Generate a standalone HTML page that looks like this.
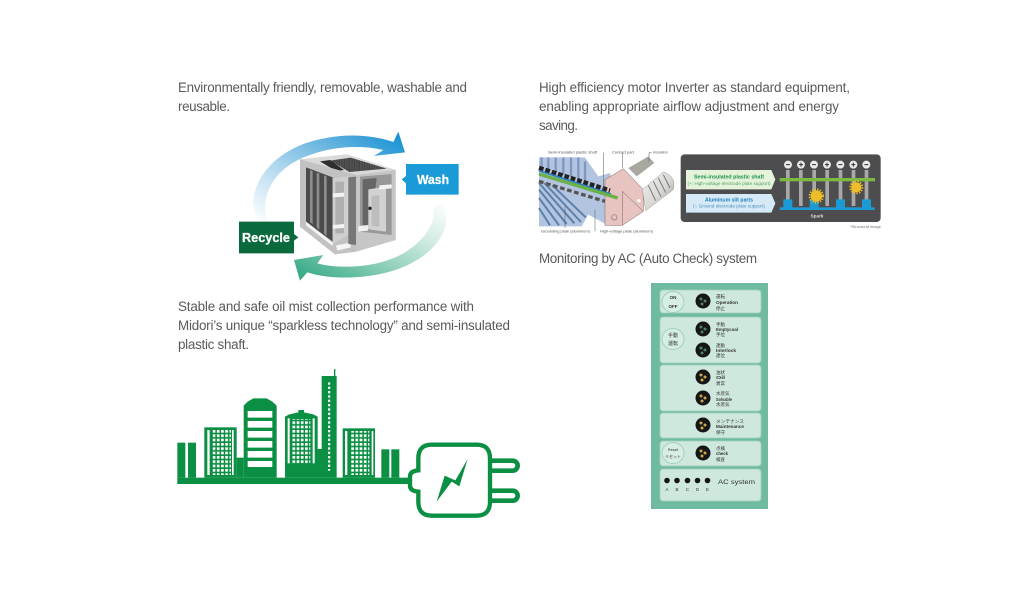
<!DOCTYPE html>
<html>
<head>
<meta charset="utf-8">
<style>
html,body{margin:0;padding:0;background:#fff;width:1024px;height:615px;overflow:hidden}
svg{display:block}
.t{font-family:"Liberation Sans","Noto Sans CJK JP",sans-serif;font-size:13.4px;fill:#5a5a5a}
.s{font-family:"Liberation Sans","Noto Sans CJK JP",sans-serif}
</style>
</head>
<body>
<svg width="1024" height="615" viewBox="0 0 1024 615" xmlns="http://www.w3.org/2000/svg">
<defs>
<linearGradient id="gb" x1="0" y1="1" x2="1" y2="0.1">
<stop offset="0" stop-color="#fff"/><stop offset=".3" stop-color="#c5e2f3"/><stop offset=".65" stop-color="#72b9e2"/><stop offset="1" stop-color="#1a93d3"/>
</linearGradient>
<linearGradient id="gg" x1="1" y1="0" x2="0" y2="0.9">
<stop offset="0" stop-color="#fff"/><stop offset=".3" stop-color="#d2ece2"/><stop offset=".65" stop-color="#89cdb5"/><stop offset="1" stop-color="#37a987"/>
</linearGradient>
<pattern id="w1" x="128" y="195" width="12.6" height="13" patternUnits="userSpaceOnUse"><rect width="8" height="8" fill="#fff"/></pattern>
<pattern id="w2" x="474" y="52" width="10" height="13" patternUnits="userSpaceOnUse"><rect width="7" height="7" fill="#fff"/></pattern>
<pattern id="grate" x="0" y="0" width="5" height="5" patternUnits="userSpaceOnUse"><rect width="5" height="5" fill="#3f3f3f"/><rect width="2" height="5" fill="#5c5c5c"/></pattern>
<linearGradient id="ins" x1="0" y1="0" x2="1" y2="1">
<stop offset="0" stop-color="#f0f0ec"/><stop offset=".55" stop-color="#d8d8d4"/><stop offset="1" stop-color="#999"/>
</linearGradient>
<filter id="b1"><feGaussianBlur stdDeviation=".35"/></filter>
<filter id="b2"><feGaussianBlur stdDeviation=".6"/></filter>
<filter id="b0"><feGaussianBlur stdDeviation=".22"/></filter>
</defs>

<!-- paragraph text -->
<text class="t" x="178" y="92" textLength="289" lengthAdjust="spacing">Environmentally friendly, removable, washable and</text>
<text class="t" x="178" y="111" textLength="52" lengthAdjust="spacing">reusable.</text>
<text class="t" x="539" y="92" textLength="311" lengthAdjust="spacing">High efficiency motor Inverter as standard equipment,</text>
<text class="t" x="539" y="111" textLength="300" lengthAdjust="spacing">enabling appropriate airflow adjustment and energy</text>
<text class="t" x="539" y="130" textLength="39" lengthAdjust="spacing">saving.</text>
<text class="t" x="539" y="263" textLength="218" lengthAdjust="spacing">Monitoring by AC (Auto Check) system</text>
<text class="t" x="178" y="311" textLength="296" lengthAdjust="spacing">Stable and safe oil mist collection performance with</text>
<text class="t" x="178" y="330" textLength="332" lengthAdjust="spacing">Midori’s unique “sparkless technology” and semi-insulated</text>
<text class="t" x="178" y="349" textLength="71" lengthAdjust="spacing">plastic shaft.</text>

<!-- wash / recycle cycle -->
<g transform="translate(220,120) scale(.33333)">
<path d="M100 260C95 190 150 110 250 72C340 40 440 38 520 66L535 35L555 97L462 108L490 90C400 70 300 85 225 125C160 160 120 230 140 305L110 305Z" fill="url(#gb)"/>
<path d="M680 290C680 350 630 410 540 445C470 472 350 485 262 457L240 482L222 420L310 405L292 430C370 450 480 440 550 400C610 365 650 310 640 260L672 250Z" fill="url(#gg)"/>
<!-- device -->
<g filter="url(#b1)">
<path d="M240 118L380 103L527 150V360L345 403L240 320Z" fill="#c6c6c6"/>
<path d="M240 118L380 103L527 150L410 165Z" fill="#dadada"/>
<path d="M330 122L392 113L500 146L388 156Z" fill="url(#grate)"/>
<path d="M300 124L330 120L372 150L348 153Z" fill="#2e2e2e"/>
<path d="M240 118L410 165V395L345 403L240 320Z" fill="#c2c2c2"/>
<path d="M258 142L338 172V365L258 305Z" fill="#4c4c4c"/>
<path d="M270 150L278 153V312L270 306ZM290 158L298 161V330L290 322ZM312 166L320 170V348L312 340Z" fill="#8d8d8d"/>
<path d="M338 175L385 170V345L338 372Z" fill="#cfcfcf"/>
<path d="M346 185H372V340H346Z" fill="#b0b0b0"/>
<path d="M338 220L372 218V230L338 232ZM338 315L372 312V324L338 326Z" fill="#f3f3f3"/>
<path d="M258 305L338 368V378L258 316Z" fill="#f4f4f4"/>
<path d="M348 376L392 368V382L352 392Z" fill="#f4f4f4"/>
<path d="M385 172L408 170V375L385 372Z" fill="#777"/>
<path d="M410 165L527 150V360L410 395Z" fill="#c6c6c6"/>
<path d="M420 170L515 162V345L420 335Z" fill="#989898"/>
<path d="M428 178L470 174L452 330H428Z" fill="#666"/>
<path d="M445 208L498 200V335L445 328Z" fill="#d2d2d2"/>
<path d="M478 196L515 193V205L478 208Z" fill="#f4f4f4"/>
<path d="M415 318L445 315V332L415 335Z" fill="#f0f0f0"/>
<path d="M455 228L478 225V320L455 318Z" fill="#bdbdbd"/>
<circle cx="450" cy="265" r="5" fill="#222"/>
</g>
<!-- labels -->
<path d="M558 132H716V224H558V190L545 178L558 168Z" fill="#1a9bd8"/>
<path d="M57 305H222V342L235 352L222 362V400H57Z" fill="#0b6a3d"/>
</g>
<text class="s" x="433" y="184" text-anchor="middle" font-size="12.5" font-weight="700" fill="#fff" stroke="#fff" stroke-width=".25" textLength="32" lengthAdjust="spacingAndGlyphs">Wash</text>
<text class="s" x="266" y="242" text-anchor="middle" font-size="12.5" font-weight="700" fill="#fff" stroke="#fff" stroke-width=".25" textLength="48" lengthAdjust="spacingAndGlyphs">Recycle</text>

<!-- city + plug -->
<g transform="translate(170,365) scale(.33333)" fill="#0b8f43">
<rect x="22" y="338" width="700" height="19"/>
<rect x="22" y="233" width="24" height="105"/>
<rect x="54" y="233" width="24" height="105"/>
<rect x="103" y="187" width="97" height="151"/>
<rect x="112" y="195" width="7" height="135" fill="#fff"/>
<rect x="186" y="195" width="5" height="135" fill="#fff"/>
<rect x="128" y="195" width="55" height="135" fill="url(#w1)"/>
<rect x="200" y="278" width="21" height="60"/>
<path d="M221 338V122L233 110L250 100H290L307 110L320 122V338Z"/>
<path d="M233 138h74v20h-74zM233 168h74v20h-74zM233 198h74v20h-74zM233 228h74v20h-74zM233 258h74v20h-74zM233 288h74v18h-74z" fill="#fff"/>
<path d="M345 338V155L358 148L385 142V135H402V142L430 148L443 155V252H455V33L492 33V12H496V33H500V338Z"/>
<rect x="353" y="160" width="6" height="135" fill="#fff"/>
<rect x="428" y="160" width="6" height="135" fill="#fff"/>
<rect x="366" y="162" width="55" height="133" fill="url(#w1)"/>
<rect x="474" y="52" width="7" height="265" fill="url(#w2)"/>
<rect x="518" y="190" width="97" height="148"/>
<rect x="525" y="198" width="7" height="132" fill="#fff"/>
<rect x="605" y="198" width="5" height="132" fill="#fff"/>
<rect x="540" y="198" width="58" height="132" fill="url(#w1)"/>
<rect x="634" y="253" width="24" height="85"/>
<rect x="664" y="253" width="24" height="85"/>
<path d="M965 287H1028A15 15 0 0 1 1028 317H965" fill="none" stroke="#0b8f43" stroke-width="14"/>
<path d="M965 377H1028A15 15 0 0 1 1028 407H965" fill="none" stroke="#0b8f43" stroke-width="14"/>
<path d="M785 239H920Q960 239 960 280V410Q960 452 920 452H785Q745 452 745 410V380Q720 378 720 362V335Q720 318 745 316V280Q745 239 785 239Z" fill="#fff" stroke="#0b8f43" stroke-width="13"/>
<path d="M893 282L868 364L845 350L800 410L824 332L856 346Z"/>
</g>

<!-- electrode diagram -->
<g transform="translate(535,148) scale(.33333)" filter="url(#b2)">
<path d="M12 28H150L190 85L225 75L245 150L215 230L160 200L140 235H12Z" fill="#b3c4e0"/>
<path d="M20 28V62M40 28V66M62 28V72M85 28V80M108 28V88M130 28V95M150 40V100" stroke="#8098c0" stroke-width="7"/>
<path d="M12 125L95 228M12 150L72 232M12 105L118 226M28 105L138 222M52 112L152 208M12 180L45 232" stroke="#5c80aa" stroke-width="6"/>
<path d="M210 95L265 62L325 125V190L262 232H210Z" fill="#e8c4c1" stroke="#7b6161" stroke-width="1.500"/>
<path d="M262 230V130L325 190" fill="none" stroke="#7b6161" stroke-width="1.500"/>
<path d="M280 60L340 25L358 45L305 85Z" fill="#a8a8a0"/>
<path d="M322 125L385 72Q425 85 415 125L332 188Z" fill="url(#ins)" stroke="#777" stroke-width="1"/>
<path d="M340 112L362 158M355 100L378 146M370 90L392 134M385 80L405 120" stroke="#777" stroke-width="3"/>
<path d="M12 60L225 128" stroke="#222" stroke-width="14" stroke-dasharray="14 6"/>
<path d="M12 68L228 138" stroke="#2a7fc0" stroke-width="5"/>
<path d="M12 78L248 150" stroke="#6cb04a" stroke-width="10"/>
<path d="M12 100L210 160" stroke="#555" stroke-width="10" stroke-dasharray="14 8"/>
<circle cx="312" cy="158" r="5" fill="#fff"/>
<circle cx="238" cy="208" r="8" fill="none" stroke="#777" stroke-width="2"/>
<path d="M205 14V130M262 14V60M350 14H342V40M90 175V240M180 185V250" stroke="#555" stroke-width="1.500" fill="none"/>
</g>
<g class="s" fill="#555" font-size="3.500" filter="url(#b0)">
<text x="548" y="153.500" textLength="49" lengthAdjust="spacingAndGlyphs">Semi-insulated plastic shaft</text>
<text x="612" y="153.500" textLength="22" lengthAdjust="spacingAndGlyphs">Contact part</text>
<text x="653" y="153.500" textLength="15" lengthAdjust="spacingAndGlyphs">Insulator</text>
<text x="541" y="232.500" textLength="49" lengthAdjust="spacingAndGlyphs">Grounding plate (aluminum)</text>
<text x="600" y="232.500" textLength="53" lengthAdjust="spacingAndGlyphs">High-voltage plate (aluminum)</text>
</g>

<!-- spark panel -->
<g transform="translate(678,150) scale(.33333)">
<rect x="8" y="13" width="600" height="203" rx="12" fill="#4d4d4f"/>
<g filter="url(#b2)">
<path d="M24 60H280L292 88L280 118H24Z" fill="#e4f3d9"/>
<path d="M24 132H280L292 160L280 188H24Z" fill="#d6e9f6"/>
<g fill="#a8a8a8">
<rect x="324" y="60" width="11" height="115"/>
<rect x="363" y="60" width="11" height="108"/>
<rect x="403" y="60" width="11" height="115"/>
<rect x="442" y="60" width="11" height="108"/>
<rect x="482" y="60" width="11" height="115"/>
<rect x="521" y="60" width="11" height="108"/>
<rect x="560" y="60" width="11" height="115"/>
</g>
<path d="M305 172H590V180H305ZM316 148H343V172H316ZM395 148H422V172H395ZM474 148H501V172H474ZM552 148H579V172H552Z" fill="#1f9ad6"/>
<rect x="305" y="84" width="286" height="10" fill="#7dbb3f"/>
<g fill="#e8e8e8">
<circle cx="330" cy="44" r="12"/><circle cx="369" cy="44" r="12"/><circle cx="408" cy="44" r="12"/><circle cx="447" cy="44" r="12"/><circle cx="487" cy="44" r="12"/><circle cx="526" cy="44" r="12"/><circle cx="565" cy="44" r="12"/>
</g>
<path d="M324 44h12M402 44h12M481 44h12M559 44h12M363 44h12M441 44h12M520 44h12M369 38v12M447 38v12M526 38v12" stroke="#333" stroke-width="3"/>
<circle cx="415" cy="138" r="17" fill="#eebd2a"/>
<circle cx="415" cy="138" r="20" fill="none" stroke="#eebd2a" stroke-width="6" stroke-dasharray="4 4"/>
<circle cx="535" cy="112" r="15" fill="#eebd2a"/>
<circle cx="535" cy="112" r="18" fill="none" stroke="#eebd2a" stroke-width="6" stroke-dasharray="4 4"/>
</g>
</g>
<g class="s" font-weight="700" filter="url(#b0)">
<text x="729" y="178.500" font-size="5.500" fill="#1f9048" text-anchor="middle" textLength="70" lengthAdjust="spacingAndGlyphs">Semi-insulated plastic shaft</text>
<text x="729" y="185" font-size="4.500" font-weight="400" fill="#4ba164" text-anchor="middle" textLength="83" lengthAdjust="spacingAndGlyphs">(+: High-voltage electrode plate support)</text>
<text x="729" y="201.500" font-size="5.500" fill="#1f7fb8" text-anchor="middle" textLength="48" lengthAdjust="spacingAndGlyphs">Aluminum slit parts</text>
<text x="729" y="207.500" font-size="4.500" font-weight="400" fill="#4a8fbd" text-anchor="middle" textLength="72" lengthAdjust="spacingAndGlyphs">(-: Ground electrode plate support)</text>
<text x="817" y="217.500" font-size="4.500" fill="#ddd" text-anchor="middle" textLength="13" lengthAdjust="spacingAndGlyphs">Spark</text>
<text x="850" y="228" font-size="3.500" font-weight="400" fill="#777" textLength="31" lengthAdjust="spacingAndGlyphs">*Structural image</text>
</g>

<!-- AC panel -->
<rect x="651" y="283" width="117" height="226" fill="#70bb9f"/>
<g fill="#cfe8dd" filter="url(#b2)">
<rect x="660" y="290" width="101" height="23" rx="3"/>
<rect x="660" y="317" width="101" height="46" rx="3"/>
<rect x="660" y="365" width="101" height="46" rx="3"/>
<rect x="660" y="413" width="101" height="25" rx="3"/>
<rect x="660" y="441" width="101" height="25" rx="3"/>
<rect x="660" y="469" width="101" height="32" rx="3"/>
</g>
<g fill="none" stroke="#9fd0bd" stroke-width="1" filter="url(#b1)">
<ellipse cx="673" cy="302" rx="11" ry="10.500" fill="#d6eee4"/>
<ellipse cx="673" cy="339" rx="11" ry="10.500" fill="#d6eee4"/>
<ellipse cx="673" cy="453" rx="11" ry="10.500" fill="#d6eee4"/>
</g>
<g fill="#181818" filter="url(#b1)">
<circle cx="703" cy="301" r="7.500"/><circle cx="703" cy="329" r="7.500"/><circle cx="703" cy="350" r="7.500"/>
<circle cx="703" cy="377" r="7.500"/><circle cx="703" cy="398" r="7.500"/><circle cx="703" cy="425" r="7.500"/><circle cx="703" cy="453" r="7.500"/>
<circle cx="667" cy="480.500" r="2.800"/><circle cx="677" cy="480.500" r="2.800"/><circle cx="687.500" cy="480.500" r="2.800"/><circle cx="697.500" cy="480.500" r="2.800"/><circle cx="707.500" cy="480.500" r="2.800"/>
</g>
<g fill="#4f7f66" filter="url(#b1)">
<circle cx="701" cy="299" r="1.500"/><circle cx="705" cy="301" r="1.500"/><circle cx="702" cy="304" r="1.500"/>
<circle cx="701" cy="327" r="1.500"/><circle cx="705" cy="329" r="1.500"/><circle cx="702" cy="332" r="1.500"/>
<circle cx="701" cy="348" r="1.500"/><circle cx="705" cy="350" r="1.500"/><circle cx="702" cy="353" r="1.500"/>
</g>
<g fill="#c9a94a" filter="url(#b1)">
<circle cx="701" cy="375" r="1.500"/><circle cx="705" cy="377" r="1.500"/><circle cx="702" cy="380" r="1.500"/>
<circle cx="701" cy="396" r="1.500"/><circle cx="705" cy="398" r="1.500"/><circle cx="702" cy="401" r="1.500"/>
<circle cx="701" cy="423" r="1.500"/><circle cx="705" cy="425" r="1.500"/><circle cx="702" cy="428" r="1.500"/>
<circle cx="701" cy="451" r="1.500"/><circle cx="705" cy="453" r="1.500"/><circle cx="702" cy="456" r="1.500"/>
</g>
<g class="s" fill="#333" font-size="4.500" filter="url(#b0)">
<text x="673" y="299" text-anchor="middle" font-weight="700">ON</text>
<text x="673" y="308" text-anchor="middle" font-weight="700">OFF</text>
<text x="673" y="337" text-anchor="middle" font-size="5">手動</text>
<text x="673" y="345" text-anchor="middle" font-size="5">運転</text>
<text x="673" y="451" text-anchor="middle" font-size="4">Reset</text>
<text x="673" y="458" text-anchor="middle" font-size="4">リセット</text>
<text x="716" y="298">運転</text><text x="716" y="304" font-weight="700" textLength="22" lengthAdjust="spacingAndGlyphs">Operation</text><text x="716" y="310">停止</text>
<text x="716" y="326">手動</text><text x="716" y="331" font-weight="700" textLength="22" lengthAdjust="spacingAndGlyphs">Emptycoal</text><text x="716" y="336">手位</text>
<text x="716" y="347">連動</text><text x="716" y="352" font-weight="700" textLength="20" lengthAdjust="spacingAndGlyphs">Interlock</text><text x="716" y="357">連位</text>
<text x="716" y="374">油状</text><text x="716" y="379" font-weight="700" textLength="9" lengthAdjust="spacingAndGlyphs">Oil</text><text x="716" y="385">異常</text>
<text x="716" y="395">水蒸気</text><text x="716" y="401" font-weight="700" textLength="16" lengthAdjust="spacingAndGlyphs">Solvable</text><text x="716" y="406">水蒸気</text>
<text x="716" y="423" textLength="28" lengthAdjust="spacingAndGlyphs">メンテナンス</text><text x="716" y="428" font-weight="700" textLength="28" lengthAdjust="spacingAndGlyphs">Maintenance</text><text x="716" y="434">保守</text>
<text x="716" y="450">点検</text><text x="716" y="455" font-weight="700" textLength="12" lengthAdjust="spacingAndGlyphs">check</text><text x="716" y="461">検査</text>
<text x="718" y="484" font-size="6.500" textLength="37" lengthAdjust="spacingAndGlyphs">AC system</text>
<text x="667" y="491" text-anchor="middle" font-size="4.500">A</text>
<text x="677" y="491" text-anchor="middle" font-size="4.500">B</text>
<text x="687.500" y="491" text-anchor="middle" font-size="4.500">C</text>
<text x="697.500" y="491" text-anchor="middle" font-size="4.500">D</text>
<text x="707.500" y="491" text-anchor="middle" font-size="4.500">E</text>
</g>
</svg>
</body>
</html>
